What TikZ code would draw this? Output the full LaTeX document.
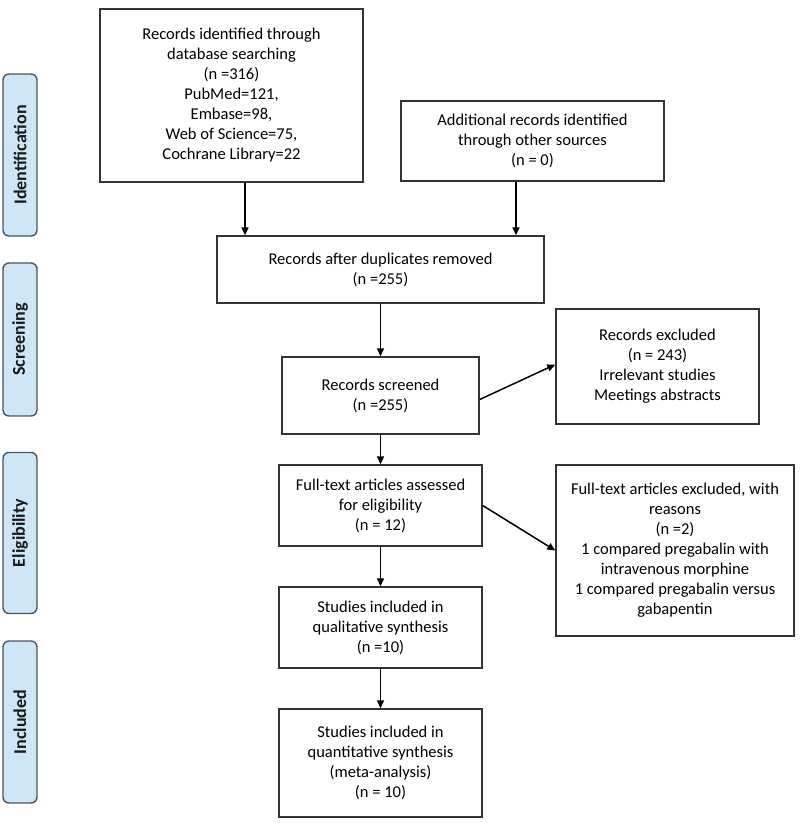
\documentclass[tikz,border=0pt]{standalone}
\usepackage{fontspec}
\setmainfont{Carlito}
\usetikzlibrary{arrows.meta,calc}
\definecolor{sidefill}{HTML}{CFE6F7}
\definecolor{sidedraw}{HTML}{4A5560}
\definecolor{boxdraw}{HTML}{333333}
\tikzset{
  box/.style={draw=boxdraw, line width=1.4pt, fill=white, align=center, inner sep=2pt,
    font=\fontsize{16.5}{20}\selectfont, text=black},
  side/.style={draw=sidedraw, line width=1.4pt, fill=sidefill, rounded corners=6pt,
    minimum width=34pt, font=\fontsize{18}{20}\selectfont\bfseries, text=black!90},
  arr/.style={-{Triangle[length=8pt,width=7pt]}, line width=1.5pt, black}
}
\begin{document}
\begin{tikzpicture}[x=1pt,y=-1pt]
\useasboundingbox (0,0) rectangle (800,823);
% side labels
\node[side, minimum height=162pt] (s1) at (20,155) {\rotatebox{90}{Identification}};
\node[side, minimum height=153pt] (s2) at (20,339.5) {\rotatebox{90}{Screening}};
\node[side, minimum height=161pt] (s3) at (20,533) {\rotatebox{90}{Eligibility}};
\node[side, minimum height=162pt] (s4) at (20,722) {\rotatebox{90}{Included}};
% boxes
\node[box, minimum width=263pt, minimum height=173pt] (b1) at (231.5,95.5)
  {Records identified through\\database searching\\(n =316)\\PubMed=121,\\Embase=98,\\Web of Science=75,\\Cochrane Library=22};
\node[box, minimum width=263pt, minimum height=80pt] (b2) at (532.5,141)
  {Additional records identified\\through other sources\\(n = 0)};
\node[box, minimum width=327pt, minimum height=67pt] (b3) at (380.5,269.5)
  {Records after duplicates removed\\(n =255)};
\node[box, minimum width=197pt, minimum height=77pt] (b4) at (380.5,395.5)
  {Records screened\\(n =255)};
\node[box, minimum width=203pt, minimum height=115pt] (b5) at (657.5,366.5)
  {Records excluded\\(n = 243)\\Irrelevant studies\\Meetings abstracts};
\node[box, minimum width=203pt, minimum height=81pt] (b6) at (380.5,505.5)
  {Full-text articles assessed\\for eligibility\\(n = 12)};
\node[box, minimum width=238pt, minimum height=171pt] (b7) at (675,550.5)
  {Full-text articles excluded, with\\reasons\\(n =2)\\1 compared pregabalin with\\intravenous morphine\\1 compared pregabalin versus\\gabapentin};
\node[box, minimum width=203pt, minimum height=81pt] (b8) at (380.5,627.5)
  {Studies included in\\qualitative synthesis\\(n =10)};
\node[box, minimum width=203pt, minimum height=108pt] (b9) at (380.5,763)
  {Studies included in\\quantitative synthesis\\(meta-analysis)\\(n = 10)};
% arrows
\draw[arr] ([xshift=13.5pt]b1.south) -- ([xshift=13.5pt]b1.south |- b3.north);
\draw[arr] ([xshift=-16.5pt]b2.south) -- ([xshift=-16.5pt]b2.south |- b3.north);
\draw[arr] (b3.south) -- (b4.north);
\draw[arr] ([yshift=-4pt]b4.east) -- ([yshift=2pt]b5.west);
\draw[arr] (b4.south) -- (b6.north);
\draw[arr] (b6.east) -- (b7.west);
\draw[arr] (b6.south) -- (b8.north);
\draw[arr] (b8.south) -- (b9.north);
\end{tikzpicture}
\end{document}
